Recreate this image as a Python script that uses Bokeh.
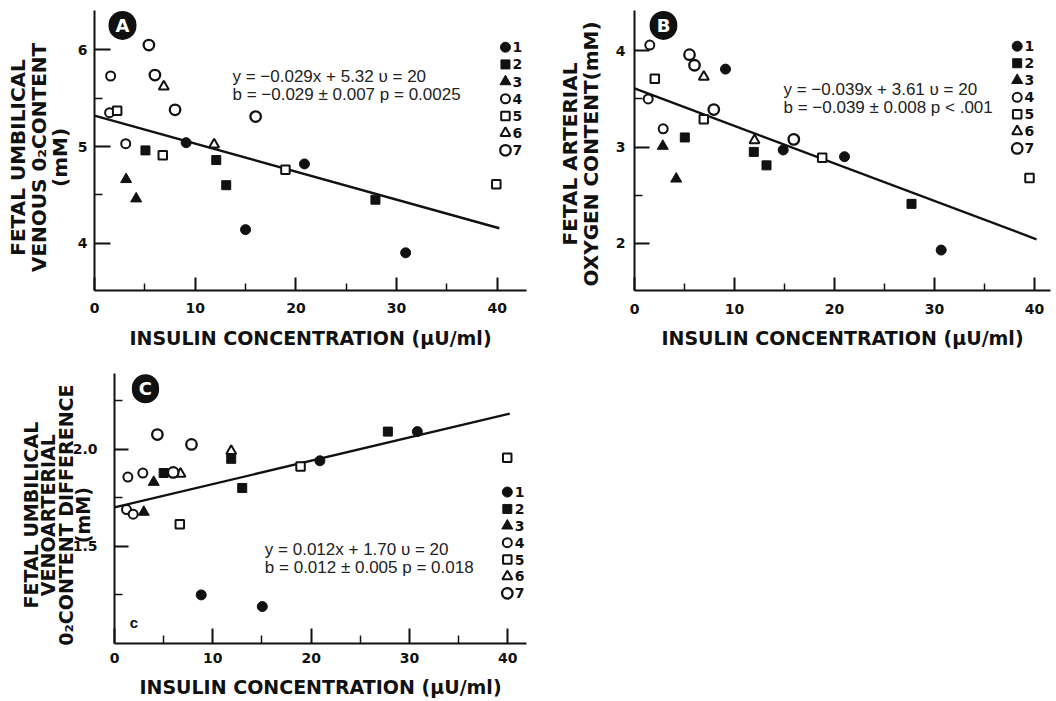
from bokeh.plotting import figure
from bokeh.layouts import column, row
from bokeh.models import FixedTicker, Range1d, Label
from bokeh.embed import file_html
from bokeh.resources import INLINE

# ---------------- data ----------------
GROUP_LABELS = ["1", "2", "3", "4", "5", "6", "7"]
X_TICKS = [0, 10, 20, 30, 40]
X_MINOR = [5, 15, 25, 35]
X_LABEL = "INSULIN CONCENTRATION (µU/ml)"

# Panel A: fetal umbilical venous O2 content (mM)
A_GROUP = [1, 1, 1, 1, 2, 2, 2, 2, 3, 3, 4, 4, 4, 5, 5, 5, 5, 6, 6, 7, 7, 7, 7]
A_X = [9.1, 20.85, 15.0, 30.9, 5.06, 12.09, 13.08, 27.9, 3.14, 4.14, 1.6, 1.5, 3.1,
       2.25, 6.78, 18.96, 39.9, 6.88, 11.88, 5.4, 6.0, 8.0, 16.0]
A_Y = [5.04, 4.82, 4.14, 3.90, 4.96, 4.86, 4.60, 4.45, 4.66, 4.46, 5.73, 5.35, 5.03,
       5.37, 4.91, 4.76, 4.61, 5.62, 5.02, 6.05, 5.74, 5.38, 5.31]
A_FIT = [-0.029, 5.32]
A_EQ = ["y = −0.029x + 5.32 υ = 20", "b = −0.029 ± 0.007 p = 0.0025"]
A_YTICKS = [4, 5, 6]
A_YMINOR = [4.5, 5.5]
A_YLABEL = ["FETAL UMBILICAL", "VENOUS 0₂CONTENT", "(mM)"]

# Panel B: fetal arterial oxygen content (mM)
B_GROUP = [1, 1, 1, 1, 2, 2, 2, 2, 3, 3, 4, 4, 4, 5, 5, 5, 5, 6, 6, 7, 7, 7, 7]
B_X = [9.1, 14.87, 21.0, 30.67, 5.03, 11.93, 13.2, 27.7, 2.83, 4.17, 1.53, 1.37, 2.87,
       2.03, 6.93, 18.77, 39.5, 6.93, 12.0, 5.5, 6.0, 7.93, 15.93]
B_Y = [3.81, 2.97, 2.90, 1.93, 3.10, 2.95, 2.81, 2.41, 3.01, 2.67, 4.06, 3.50, 3.19,
       3.71, 3.29, 2.89, 2.68, 3.73, 3.07, 3.96, 3.85, 3.39, 3.08]
B_FIT = [-0.039, 3.61]
B_EQ = ["y = −0.039x + 3.61 υ = 20", "b = −0.039 ± 0.008 p < .001"]
B_YTICKS = [2, 3, 4]
B_YMINOR = [2.5, 3.5]
B_YLABEL = ["FETAL ARTERIAL", "OXYGEN CONTENT(mM)"]

# Panel C: fetal umbilical venoarterial O2 content difference (mM)
C_GROUP = [1, 1, 1, 1, 2, 2, 2, 2, 3, 3, 4, 4, 4, 4, 5, 5, 5, 6, 6, 7, 7, 7]
C_X = [20.89, 30.8, 8.82, 15.03, 11.87, 5.0, 12.99, 27.8, 3.99, 2.98, 1.36, 2.88, 1.22, 1.9,
       18.92, 6.64, 39.94, 11.87, 6.71, 4.36, 7.83, 5.97]
C_Y = [1.94, 2.09, 1.25, 1.19, 1.95, 1.877, 1.80, 2.09, 1.83, 1.676, 1.856, 1.877, 1.689, 1.665,
       1.91, 1.613, 1.956, 1.99, 1.873, 2.075, 2.024, 1.88]
C_STRAY_X = [1.97]
C_STRAY_Y = [1.106]
C_STRAY_TEXT = ["c"]
C_FIT = [0.012, 1.70]
C_EQ = ["y = 0.012x + 1.70 υ = 20", "b = 0.012 ± 0.005 p = 0.018"]
C_YTICKS = [1.5, 2.0]
C_YMINOR = [1.25, 1.75, 2.25]
C_YLABEL = ["FETAL UMBILICAL", "VENOARTERIAL", "0₂CONTENT DIFFERENCE", "(mM)"]

FIT_END = 40.2

# ---------------- style ----------------
INK = "#111111"
BOLD_FONT = "DejaVu Sans"
EQ_FONT = "Liberation Sans"
NBSP = "\u00a0"
STYLE = {
    1: ("circle", True, 10),
    2: ("square", True, 9),
    3: ("triangle", True, 11),
    4: ("circle", False, 9),
    5: ("square", False, 8.5),
    6: ("triangle", False, 10),
    7: ("circle", False, 10.5),
}


def make_panel(letter, groups, xs, ys, fit, eq_lines, yticks, yminor, ylabel_lines, ylab_pad,
               width, height, bl, br, bt, bb, xmax, ymin, ymax,
               letter_xy, eq_xy, key,
               y_tick_in, y_minor_in, x_tick_in, x_minor_in,
               ytick_standoff, ylab_standoff, xtick_standoff, xlab_standoff,
               ylab_size, ylab_lh, overrides=None):
    p = figure(width=width, height=height, x_range=Range1d(0, xmax), y_range=Range1d(ymin, ymax),
               output_backend="svg", toolbar_location=None,
               min_border_left=bl, min_border_right=br, min_border_top=bt, min_border_bottom=bb)
    p.outline_line_color = None
    p.xgrid.visible = False
    p.ygrid.visible = False
    p.background_fill_color = "white"
    p.border_fill_color = "white"

    slope, intercept = fit
    p.line([0, FIT_END], [intercept, intercept + slope * FIT_END], line_color=INK, line_width=2.4)

    kx, ky0, kdy, klx = key
    for g in range(1, 8):
        sx = [x for x, gg in zip(xs, groups) if gg == g]
        sy = [y for y, gg in zip(ys, groups) if gg == g]
        marker, filled, size = STYLE[g]
        style = dict(marker=marker, size=size, fill_color=INK if filled else "white",
                     line_color=INK, line_width=1 if filled else (2.3 if g == 7 else 2))
        p.scatter(sx, sy, **style)
        # key (legend) entry
        ky = ky0 - (g - 1) * kdy
        p.scatter([kx], [ky], **style)
        p.add_layout(Label(x=klx, y=ky, text=GROUP_LABELS[g - 1], text_color=INK,
                           text_font=BOLD_FONT, text_font_style="bold", text_font_size="14px",
                           text_align="left", text_baseline="middle"))

    xa = p.xaxis[0]
    ya = p.yaxis[0]
    for ax in (xa, ya):
        ax.axis_line_width = 2
        ax.axis_line_color = INK
        ax.major_tick_line_width = 2
        ax.major_tick_line_color = INK
        ax.minor_tick_line_width = 1.5
        ax.minor_tick_line_color = INK
        ax.major_tick_out = 0
        ax.minor_tick_out = 0
        ax.major_label_text_font = BOLD_FONT
        ax.major_label_text_font_style = "bold"
        ax.major_label_text_font_size = "14px"
        ax.major_label_text_color = INK
        ax.axis_label_text_font = BOLD_FONT
        ax.axis_label_text_font_style = "bold"
        ax.axis_label_text_color = INK

    xa.ticker = FixedTicker(ticks=X_TICKS, minor_ticks=X_MINOR)
    xa.major_tick_in = x_tick_in
    xa.minor_tick_in = x_minor_in
    xa.major_label_standoff = xtick_standoff
    xa.axis_label = X_LABEL
    xa.axis_label_text_font_size = "19px"
    xa.axis_label_standoff = xlab_standoff

    ya.ticker = FixedTicker(ticks=yticks, minor_ticks=yminor)
    ya.major_tick_in = y_tick_in
    ya.minor_tick_in = y_minor_in
    ya.major_label_standoff = ytick_standoff
    # trailing no-break spaces nudge the centred (rotated) label lines downwards
    ya.axis_label = "\n".join(line + NBSP * ylab_pad for line in ylabel_lines)
    ya.axis_label_text_font_size = ylab_size
    ya.axis_label_text_line_height = ylab_lh
    ya.axis_label_standoff = ylab_standoff
    if overrides:
        ya.major_label_overrides = overrides

    # circled panel letter
    p.add_layout(Label(x=letter_xy[0], y=letter_xy[1], text=letter, text_color="white",
                       text_font=BOLD_FONT, text_font_style="bold", text_font_size="18px",
                       text_align="center", text_baseline="middle",
                       background_fill_color=INK, border_radius=14, padding=(7, 4)))
    # regression equations
    for i, line in enumerate(eq_lines):
        p.add_layout(Label(x=eq_xy[0], y=eq_xy[1], y_offset=-18 * i, text=line, text_color="#222222",
                           text_font=EQ_FONT, text_font_size="17px",
                           text_align="left", text_baseline="middle"))
    return p


pA = make_panel("A", A_GROUP, A_X, A_Y, A_FIT, A_EQ, A_YTICKS, A_YMINOR, A_YLABEL, 2,
                width=548, height=352, bl=94, br=22, bt=8, bb=62, xmax=42.9, ymin=3.51, ymax=6.408,
                letter_xy=(2.78, 6.254), eq_xy=(13.7, 5.72), key=(40.81, 6.028, 0.1778, 41.5),
                y_tick_in=16, y_minor_in=8, x_tick_in=13, x_minor_in=7,
                ytick_standoff=7, ylab_standoff=3, xtick_standoff=12, xlab_standoff=11,
                ylab_size="20px", ylab_lh=0.88)

pB = make_panel("B", B_GROUP, B_X, B_Y, B_FIT, B_EQ, B_YTICKS, B_YMINOR, B_YLABEL, 1,
                width=508, height=352, bl=86, br=6, bt=10, bb=59, xmax=41.6, ymin=1.51, ymax=4.419,
                letter_xy=(2.9, 4.264), eq_xy=(14.9, 3.596), key=(38.27, 4.048, 0.177, 39.0),
                y_tick_in=15, y_minor_in=8, x_tick_in=13, x_minor_in=7,
                ytick_standoff=9, ylab_standoff=10, xtick_standoff=13, xlab_standoff=10,
                ylab_size="20px", ylab_lh=0.88)

pC = make_panel("C", C_GROUP, C_X, C_Y, C_FIT, C_EQ, C_YTICKS, C_YMINOR, C_YLABEL, 2,
                width=536, height=349, bl=114, br=10, bt=21, bb=58, xmax=41.9, ymin=1.0, ymax=2.389,
                letter_xy=(3.15, 2.31), eq_xy=(15.29, 1.483), key=(39.95, 1.779, 0.0868, 40.7),
                y_tick_in=14, y_minor_in=8, x_tick_in=15, x_minor_in=8,
                ytick_standoff=17, ylab_standoff=-24, xtick_standoff=9, xlab_standoff=10,
                ylab_size="19px", ylab_lh=0.78, overrides={1.5: "1.5", 2.0: "2.0"})
pC.text(C_STRAY_X, C_STRAY_Y, text=C_STRAY_TEXT, text_font_size="15px", text_font_style="bold",
        text_color=INK, text_align="center", text_baseline="middle")

layout = column(row(pA, pB), pC)
open("out.html", "w").write(file_html(layout, INLINE))
